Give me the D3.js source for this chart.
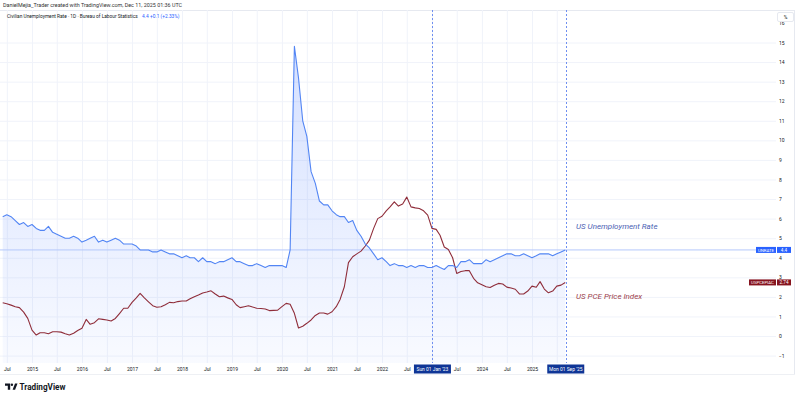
<!DOCTYPE html>
<html>
<head>
<meta charset="utf-8">
<script src="https://cdn.jsdelivr.net/npm/d3@7"></script>
<style>
  body { margin: 0; background: #fff; }
  svg text { font-family: Roboto, "Liberation Sans", Arial, sans-serif; }
  .axis .domain { display: none; }
  .grid line { stroke: #f0f3fa; }
  .grid .domain { display: none; }
</style>
</head>
<body>
<svg id="chart" width="800" height="399"></svg>
<script>
// monthly series, Jun 2014 .. Sep 2025
var startMonth = "2014-06";
var unrate = [
  6.1, 6.2, 6.1, 5.9, 5.7, 5.8, 5.6,
  5.7, 5.5, 5.4, 5.4, 5.6, 5.3, 5.2, 5.1, 5.0, 5.0, 5.1, 5.0,
  4.8, 4.9, 5.0, 5.1, 4.8, 4.9, 4.8, 4.9, 5.0, 4.9, 4.7, 4.7,
  4.7, 4.6, 4.4, 4.4, 4.4, 4.3, 4.3, 4.4, 4.3, 4.2, 4.2, 4.1,
  4.0, 4.1, 4.0, 4.0, 3.8, 4.0, 3.8, 3.8, 3.7, 3.8, 3.8, 3.9,
  4.0, 3.8, 3.8, 3.7, 3.6, 3.6, 3.7, 3.6, 3.5, 3.6, 3.6, 3.6,
  3.6, 3.5, 4.4, 14.8, 13.2, 11.0, 10.2, 8.4, 7.8, 6.9, 6.7, 6.7,
  6.4, 6.2, 6.1, 6.1, 5.8, 5.9, 5.4, 5.1, 4.7, 4.5, 4.2, 3.9,
  4.0, 3.8, 3.6, 3.7, 3.6, 3.6, 3.5, 3.6, 3.5, 3.6, 3.6, 3.5,
  3.5, 3.6, 3.5, 3.4, 3.6, 3.6, 3.5, 3.8, 3.8, 3.9, 3.7, 3.7,
  3.7, 3.9, 3.8, 3.9, 4.0, 4.1, 4.2, 4.2, 4.1, 4.1, 4.2, 4.1,
  4.0, 4.1, 4.2, 4.2, 4.2, 4.1, 4.2, 4.3, 4.4
];
var pce = [
  1.70, 1.65, 1.58, 1.50, 1.45, 1.22, 0.90,
  0.30, 0.05, 0.17, 0.17, 0.12, 0.22, 0.22, 0.20, 0.12, 0.05, 0.14, 0.28,
  0.40, 0.85, 0.60, 0.68, 0.88, 0.85, 0.82, 0.77, 0.90, 1.15, 1.42, 1.42,
  1.72, 1.95, 2.18, 1.95, 1.75, 1.55, 1.47, 1.50, 1.60, 1.72, 1.70, 1.76,
  1.79, 1.79, 1.90, 2.01, 2.10, 2.20, 2.25, 2.31, 2.15, 2.01, 2.04, 1.95,
  1.87, 1.60, 1.45, 1.50, 1.55, 1.48, 1.42, 1.41, 1.38, 1.30, 1.31, 1.32,
  1.50, 1.67, 1.62, 1.16, 0.41, 0.50, 0.65, 0.82, 1.05, 1.18, 1.18, 1.12,
  1.24, 1.50, 1.87, 2.52, 3.75, 4.05, 4.20, 4.34, 4.60, 4.90, 5.50, 6.00,
  6.12, 6.40, 6.60, 6.86, 6.64, 6.75, 7.10, 6.60, 6.55, 6.52, 6.40, 6.18,
  5.50, 5.45, 5.15, 4.55, 4.42, 4.00, 3.20, 3.30, 3.34, 3.34, 2.95, 2.72,
  2.62, 2.52, 2.48, 2.60, 2.69, 2.66, 2.50, 2.45, 2.39, 2.15, 2.15, 2.30,
  2.55, 2.49, 2.78, 2.40, 2.21, 2.30, 2.55, 2.60, 2.74
];
var xTicks = ["2014-07", "2015-01", "2015-07", "2016-01", "2016-07", "2017-01", "2017-07",
  "2018-01", "2018-07", "2019-01", "2019-07", "2020-01", "2020-07", "2021-01", "2021-07",
  "2022-01", "2022-07", "2023-01", "2023-07", "2024-01", "2024-07", "2025-01", "2025-07"];
var hiddenTickLabels = ["2023-01", "2025-07"];
var markerDates = ["2023-01", "2025-09"];
var markerLabels = ["Sun 01 Jan '23", "Mon 01 Sep '25"];
var yTicks = [-1, 0, 1, 2, 3, 4, 5, 6, 7, 8, 9, 10, 11, 12, 13, 14, 15, 16];

var parseMonth = d3.utcParse("%Y-%m");
var start = parseMonth(startMonth);
var rows = unrate.map(function (v, i) {
  return { date: d3.utcMonth.offset(start, i), unrate: v, pce: pce[i] };
});
var last = rows[rows.length - 1];

var svg = d3.select("#chart");
var plotLeft = 0, plotRight = 776, plotTop = 10, plotBottom = 363;

var x = d3.scaleUtc()
  .domain([parseMonth("2015-01"), parseMonth("2025-01")])
  .range([32, 532]);
var y = d3.scaleLinear().domain([-1, 15]).range([355.6, 42.5]);

svg.append("defs").append("clipPath").attr("id", "plotclip")
  .append("rect").attr("x", plotLeft).attr("y", plotTop)
  .attr("width", plotRight - plotLeft).attr("height", plotBottom - plotTop);

var grad = svg.select("defs").append("linearGradient")
  .attr("id", "areagrad").attr("gradientUnits", "userSpaceOnUse")
  .attr("x1", 0).attr("x2", 0).attr("y1", y(15)).attr("y2", plotBottom);
grad.append("stop").attr("offset", 0).attr("stop-color", "#2962ff").attr("stop-opacity", 0.2);
grad.append("stop").attr("offset", 1).attr("stop-color", "#2962ff").attr("stop-opacity", 0.03);

// header
svg.append("text").attr("x", 3).attr("y", 7)
  .attr("font-size", 5.4).attr("fill", "#333")
  .text("DanielMejia_Trader created with TradingView.com, Dec 11, 2025 01:36 UTC");

// frame
svg.append("line").attr("x1", 0).attr("x2", 795).attr("y1", plotTop + 0.5).attr("y2", plotTop + 0.5)
  .attr("stroke", "#e6e9f0");
svg.append("line").attr("x1", 794.5).attr("x2", 794.5).attr("y1", plotTop).attr("y2", 374)
  .attr("stroke", "#e6e9f0");
svg.append("line").attr("x1", 0).attr("x2", 795).attr("y1", 374.5).attr("y2", 374.5)
  .attr("stroke", "#eef0f4");

// grid
svg.append("g").attr("class", "grid")
  .attr("transform", "translate(0," + plotBottom + ")")
  .call(d3.axisBottom(x).tickValues(xTicks.map(parseMonth))
    .tickSize(-(plotBottom - plotTop)).tickFormat(""));
svg.append("g").attr("class", "grid")
  .attr("transform", "translate(" + plotLeft + ",0)")
  .call(d3.axisRight(y).tickValues(yTicks.filter(function (t) { return t <= 15; }))
    .tickSize(plotRight - plotLeft).tickFormat(""));

var plot = svg.append("g").attr("clip-path", "url(#plotclip)");

// area + lines
plot.append("path").datum(rows)
  .attr("fill", "url(#areagrad)")
  .attr("d", d3.area().x(function (d) { return x(d.date); })
    .y0(plotBottom).y1(function (d) { return y(d.unrate); }));

// last value price line
plot.append("line").attr("x1", plotLeft).attr("x2", plotRight)
  .attr("y1", y(last.unrate)).attr("y2", y(last.unrate))
  .attr("stroke", "#b4c8fb").attr("stroke-width", 1);

plot.append("path").datum(rows)
  .attr("fill", "none").attr("stroke", "#8f2d3a").attr("stroke-width", 1.1)
  .attr("stroke-linejoin", "round")
  .attr("d", d3.line().x(function (d) { return x(d.date); }).y(function (d) { return y(d.pce); }));

plot.append("path").datum(rows)
  .attr("fill", "none").attr("stroke", "#5285f4").attr("stroke-width", 1.1)
  .attr("stroke-linejoin", "round")
  .attr("d", d3.line().x(function (d) { return x(d.date); }).y(function (d) { return y(d.unrate); }));

// vertical date markers
markerDates.forEach(function (m) {
  var px = Math.ceil(x(parseMonth(m))) + 0.5;
  svg.append("line").attr("x1", px).attr("x2", px).attr("y1", plotTop).attr("y2", plotBottom)
    .attr("stroke", "#6f8ff0").attr("stroke-width", 1).attr("stroke-dasharray", "2,2");
});

// annotations
svg.append("text").attr("x", 576).attr("y", 228.5)
  .attr("font-size", 8).attr("font-style", "italic").attr("fill", "#4d63b4")
  .text("US Unemployment Rate");
svg.append("text").attr("x", 576).attr("y", 299)
  .attr("font-size", 8).attr("font-style", "italic").attr("fill", "#9b3e4b")
  .text("US PCE Price Index");

// legend
var legend = svg.append("text").attr("x", 7).attr("y", 17.5).attr("font-size", 4.8);
legend.append("tspan").attr("fill", "#131722")
  .text("Civilian Unemployment Rate \u00b7 1D \u00b7 Bureau of Labour Statistics");
legend.append("tspan").attr("x", 142).attr("fill", "#2962ff").text("4.4");
legend.append("tspan").attr("x", 150).attr("fill", "#2962ff").text("+0.1 (+2.33%)");

// right axis
var yAxisG = svg.append("g").attr("class", "axis")
  .attr("transform", "translate(" + plotRight + ",0)")
  .call(d3.axisRight(y).tickValues(yTicks).tickSize(0).tickPadding(3));
yAxisG.selectAll("text").attr("font-size", 5).attr("fill", "#131722")
  .attr("font-family", "Roboto, 'Liberation Sans', Arial, sans-serif");

// % box
svg.append("rect").attr("x", 777.5).attr("y", 12.5).attr("width", 16).attr("height", 9)
  .attr("rx", 1.5).attr("fill", "#fff").attr("stroke", "#e6e9f0");
svg.append("text").attr("x", 785.5).attr("y", 19).attr("text-anchor", "middle")
  .attr("font-size", 5).attr("fill", "#131722").text("%");

// bottom axis
var xAxisG = svg.append("g").attr("class", "axis")
  .attr("transform", "translate(0," + plotBottom + ")")
  .call(d3.axisBottom(x).tickValues(xTicks.map(parseMonth)).tickSize(0).tickPadding(4)
    .tickFormat(function (d) {
      var key = d3.utcFormat("%Y-%m")(d);
      if (hiddenTickLabels.indexOf(key) >= 0) return "";
      return d.getUTCMonth() === 0 ? d3.utcFormat("%Y")(d) : "Jul";
    }));
xAxisG.selectAll("text").attr("font-size", 5).attr("fill", "#131722")
  .attr("font-family", "Roboto, 'Liberation Sans', Arial, sans-serif");

// highlighted date labels
markerDates.forEach(function (m, i) {
  var px = x(parseMonth(m));
  var g = svg.append("g");
  g.append("rect").attr("x", px - 18).attr("y", 364.5).attr("width", 37).attr("height", 9)
    .attr("fill", "#0f3596");
  g.append("text").attr("x", px + 0.5).attr("y", 370.8).attr("text-anchor", "middle")
    .attr("font-size", 4.9).attr("fill", "#fff").text(markerLabels[i]);
});

// price labels on right axis
function priceTag(v, name, color, nameWidth, digits) {
  var cy = y(v);
  svg.append("rect").attr("x", plotRight - nameWidth).attr("y", cy - 3).attr("width", nameWidth)
    .attr("height", 6).attr("fill", color);
  svg.append("text").attr("x", plotRight - nameWidth / 2).attr("y", cy + 1.6)
    .attr("text-anchor", "middle").attr("font-size", 4.3).attr("fill", "#fff").text(name);
  svg.append("rect").attr("x", plotRight + 1).attr("y", cy - 3).attr("width", 14)
    .attr("height", 6).attr("fill", color);
  svg.append("text").attr("x", plotRight + 8).attr("y", cy + 1.6)
    .attr("text-anchor", "middle").attr("font-size", 4.6).attr("fill", "#fff")
    .text(v.toFixed(digits));
}
priceTag(last.unrate, "UNRATE", "#2962ff", 20, 1);
priceTag(last.pce, "USPCEPIAC", "#86141f", 27, 2);

// TradingView logo
var logo = svg.append("g").attr("transform", "translate(5,383.5)");
logo.append("path").attr("d", "M0,0 H5.2 V6.2 H2.8 V2.3 H0 Z").attr("fill", "#131722");
logo.append("circle").attr("cx", 6.9).attr("cy", 1.2).attr("r", 1.2).attr("fill", "#131722");
logo.append("path").attr("d", "M7.6,6.2 L10,0 H12.5 L10.1,6.2 Z").attr("fill", "#131722");
svg.append("text").attr("x", 19.5).attr("y", 389.8).attr("font-size", 8.2)
  .attr("font-weight", "bold").attr("fill", "#131722").text("TradingView");
</script>
</body>
</html>
